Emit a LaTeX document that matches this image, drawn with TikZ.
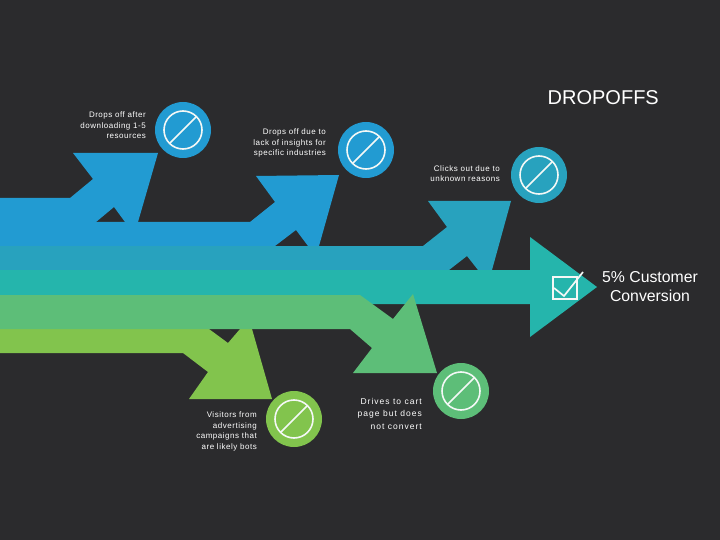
\documentclass[tikz,border=0pt]{standalone}
\usepackage{fontspec}
\setmainfont{Liberation Sans}
\newfontfamily\spaced[LetterSpace=6.5]{Liberation Sans}
\newfontfamily\spacedb[LetterSpace=12]{Liberation Sans}
\definecolor{bgc}{HTML}{2B2B2D}
\definecolor{blueA}{HTML}{229BD2}
\definecolor{blueB}{HTML}{28A2BE}
\definecolor{tealC}{HTML}{25B5AC}
\definecolor{greenD}{HTML}{5DBE78}
\definecolor{greenE}{HTML}{82C44D}
\definecolor{ringc}{HTML}{F4F8F6}
\tikzset{
  dot/.style={circle,minimum size=56pt,inner sep=0pt,fill=#1},
  ring/.style={draw=ringc,line width=1.6pt},
  small/.style={text=white,align=right,inner sep=0pt,anchor=north east,font=\spaced\fontsize{8}{10.5}\selectfont},
  big/.style={text=white,inner sep=0pt,font=\fontsize{#1}{19}\selectfont}
}
\newcommand{\noentry}[1]{%
  \draw[ring] (#1) circle (19pt);
  \draw[ring] ($(#1)+(-13.4pt,-13.4pt)$) -- ($(#1)+(13.4pt,13.4pt)$);
}
\usetikzlibrary{calc}
\begin{document}
\begin{tikzpicture}[x=1pt,y=-1pt]
\fill[bgc] (0,0) rectangle (720,540);
\useasboundingbox (0,0) rectangle (720,540);
% arrows, back to front
\fill[blueA] (0,198) -- (70,198) -- (93,179) -- (73,153) -- (158,153) -- (138,222) -- (125,222) -- (114,207) -- (96,222) -- (0,222) -- cycle;
\fill[blueA] (0,222) -- (250,222) -- (275,202) -- (256,176) -- (339,175) -- (319,246) -- (308,246) -- (296,230) -- (275,246) -- (0,246) -- cycle;
\fill[blueB] (0,246) -- (423,246) -- (447,227) -- (428,201) -- (511,201) -- (492,270) -- (478,270) -- (467,256) -- (449,270) -- (0,270) -- cycle;
\fill[tealC] (0,270) -- (530,270) -- (530,237) -- (597,287) -- (530,337) -- (530,304) -- (0,304) -- cycle;
\fill[greenE] (0,329) -- (209,329) -- (228,343) -- (240,329) -- (252,329) -- (272,399) -- (189,399) -- (208,372) -- (183,353) -- (0,353) -- cycle;
\fill[greenD] (0,295) -- (360,295) -- (393,319) -- (413,294) -- (437,373) -- (353,373) -- (372,348) -- (350,329) -- (0,329) -- cycle;
% circles
\node[dot=blueA] (c1) at (183,130) {};
\node[dot=blueA] (c2) at (366,150) {};
\node[dot=blueB] (c3) at (539,175) {};
\node[dot=greenE] (c4) at (294,419) {};
\node[dot=greenD] (c5) at (461,391) {};
\noentry{c1}\noentry{c2}\noentry{c3}\noentry{c4}\noentry{c5}
% check box
\draw[ringc,line width=2pt] (552.9,277) rectangle (576.9,298.9);
\draw[ringc,line width=1.7pt] (554,288) -- (564,296) -- (583,272);
% labels
\node[small] (t1) at (146,112) {Drops off after\\downloading 1-5\\resources};
\node[small] (t2) at (326,129) {Drops off due to\\lack of insights for\\specific industries};
\node[small] (t3) at (500,165.5) {Clicks out due to\\unknown reasons};
\node[small] (t4) at (257,412) {Visitors from\\advertising\\campaigns that\\are likely bots};
\node[small,font=\spacedb\fontsize{8.5}{12.5}\selectfont] (t5) at (422,398) {Drives to cart\\page but does\hspace*{2pt}\\not convert};
\node[big=20,anchor=east] (title) at (659,98) {DROPOFFS};
\node[big=15.8,align=center] (conv) at (650,286.5) {5\% Customer\\Conversion};
\end{tikzpicture}
\end{document}
